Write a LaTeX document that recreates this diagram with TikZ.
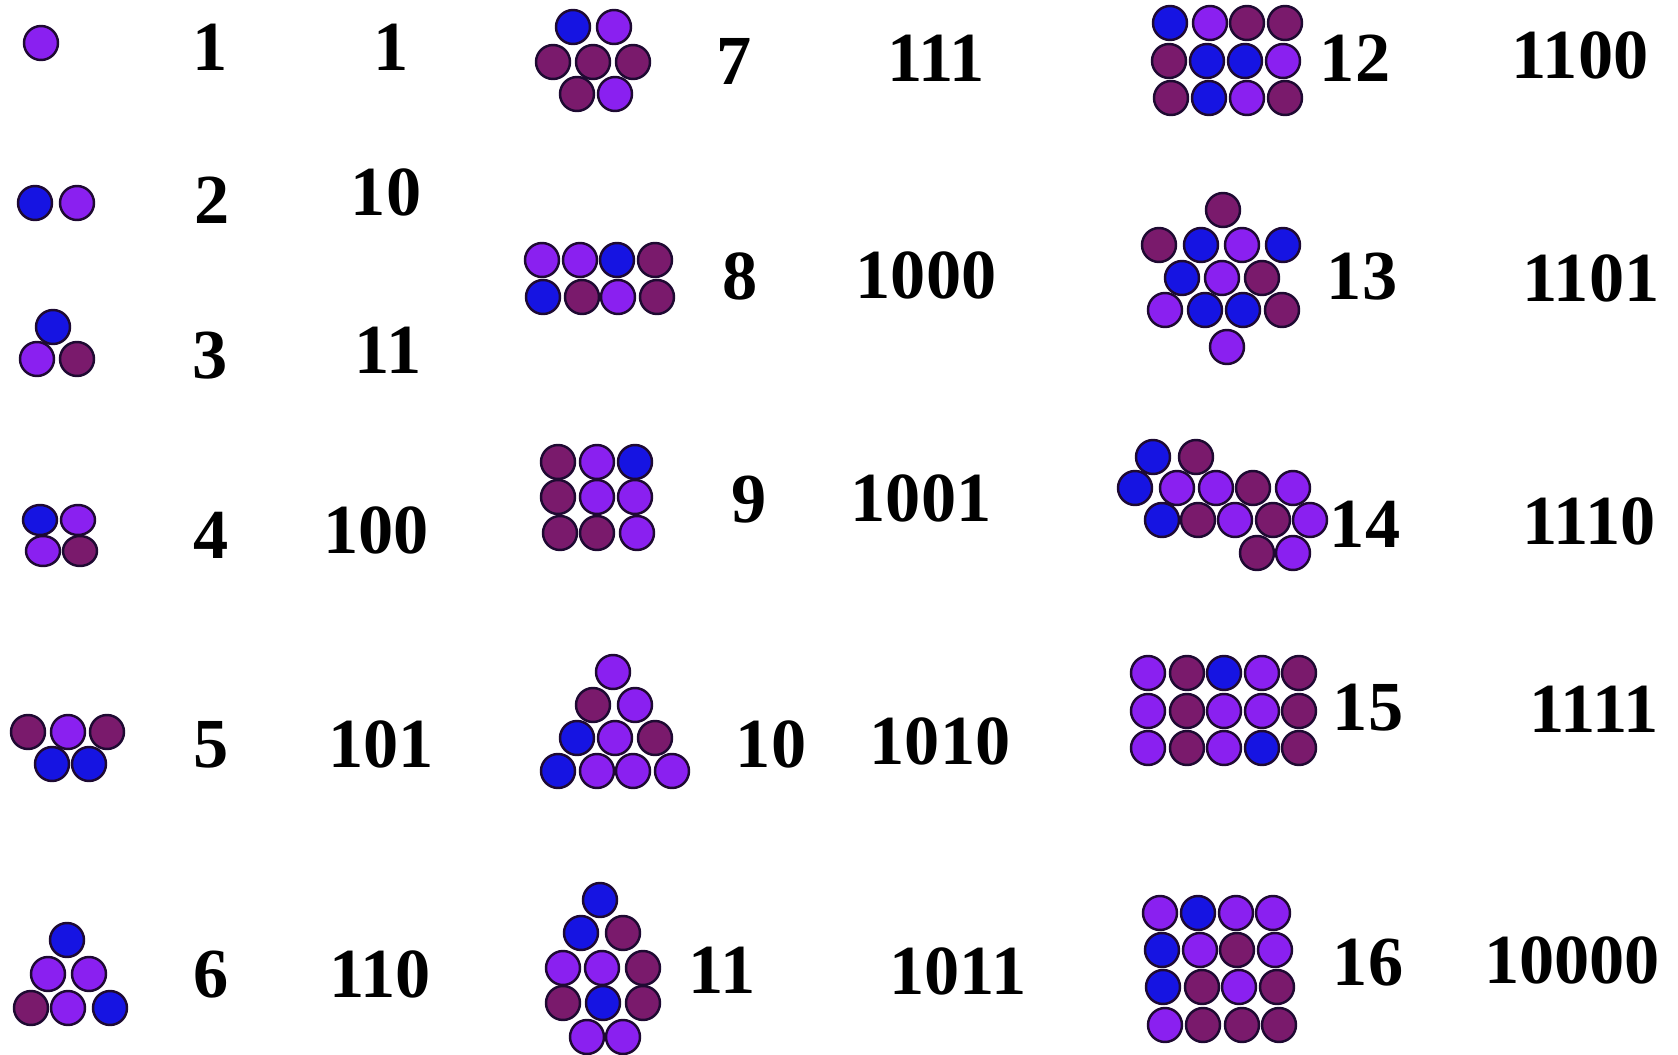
\documentclass[tikz,border=0pt]{standalone}
\usepackage{fontspec}
\setmainfont{Liberation Serif}
\usepackage{xcolor}
\usepackage{tikz}

\definecolor{B}{RGB}{22,20,226}
\definecolor{V}{RGB}{138,32,240}
\definecolor{P}{RGB}{122,26,108}
\definecolor{ballline}{RGB}{30,10,50}

\tikzset{
  ball/.style={draw=ballline, line width=0.7pt},
  count/.style={font=\fontsize{20}{24}\selectfont\bfseries, inner sep=0pt},
}
% one cluster: list of x/y/colour, optional vertical radius
\newcommand{\balls}[2][17]{%
  \foreach \bx/\by/\bc in {#2}
    \draw[ball, fill=\bc] (\bx,\by) ellipse [x radius=17, y radius=#1];}

\begin{document}
\begin{tikzpicture}[x=0.01cm, y=-0.01cm]
  \fill[white] (0,0) rectangle (1678,1055);
  \useasboundingbox (0,0) rectangle (1678,1055);

  % ---- column 1: one to six
  \balls{41/43/V}
  \balls{35/203/B, 77/203/V}
  \balls{53/327/B, 37/359/V, 77/359/P}
  \balls[15]{40/520/B, 78/520/V, 43/551/V, 80/551/P}
  \balls{28/732/P, 68/732/V, 107/732/P, 52/764/B, 89/764/B}
  \balls{67/940/B, 48/974/V, 89/974/V, 31/1008/P, 68/1008/V, 110/1008/B}
  \node[count] (n1) at (210,47) {1};   \node[count] (b1) at (391,47) {1};
  \node[count] (n2) at (212,200) {2};  \node[count] (b2) at (386,192) {10};
  \node[count] (n3) at (210,356) {3};  \node[count] (b3) at (388,350) {11};
  \node[count] (n4) at (211,535) {4};  \node[count] (b4) at (376,530) {100};
  \node[count] (n5) at (211,745) {5};  \node[count] (b5) at (381,744) {101};
  \node[count] (n6) at (211,975) {6};  \node[count] (b6) at (380,974) {110};

  % ---- column 2: seven to eleven
  \balls{573/27/B, 614/27/V, 553/62/P, 593/62/P, 633/62/P, 577/94/P, 615/94/V}
  \balls{542/260/V, 580/260/V, 617/260/B, 655/260/P,
         543/297/B, 582/297/P, 618/297/V, 657/297/P}
  \balls{558/462/P, 597/462/V, 635/462/B, 558/497/P, 597/497/V, 635/497/V,
         560/533/P, 597/533/P, 637/533/V}
  \balls{613/672/V, 593/705/P, 635/705/V, 577/738/B, 615/738/V, 655/738/P,
         558/771/B, 597/771/V, 633/771/V, 672/771/V}
  \balls{600/900/B, 581/933/B, 623/933/P, 563/968/V, 602/968/V, 643/968/P,
         563/1003/P, 603/1003/B, 643/1003/P, 587/1037/V, 623/1037/V}
  \node[count] (n7) at (734,61) {7};    \node[count] (b7) at (936,58) {111};
  \node[count] (n8) at (740,276) {8};   \node[count] (b8) at (926,275) {1000};
  \node[count] (n9) at (749,500) {9};   \node[count] (b9) at (921,498) {1001};
  \node[count] (n10) at (771,744) {10}; \node[count] (b10) at (940,741) {1010};
  \node[count] (n11) at (722,970) {11}; \node[count] (b11) at (958,971) {1011};

  % ---- column 3: twelve to sixteen
  \balls{1170/23/B, 1210/23/V, 1247/23/P, 1285/23/P,
         1169/61/P, 1207/61/B, 1245/61/B, 1283/61/V,
         1171/98/P, 1209/98/B, 1247/98/V, 1285/98/P}
  \balls{1223/210/P, 1159/245/P, 1201/245/B, 1242/245/V, 1283/245/B,
         1182/278/B, 1222/278/V, 1262/278/P,
         1165/310/V, 1205/310/B, 1243/310/B, 1282/310/P, 1227/347/V}
  \balls{1153/457/B, 1196/457/P,
         1135/488/B, 1177/488/V, 1216/488/V, 1253/488/P, 1293/488/V,
         1162/520/B, 1198/520/P, 1235/520/V, 1273/520/P, 1310/520/V,
         1257/553/P, 1293/553/V}
  \balls{1148/673/V, 1187/673/P, 1224/673/B, 1262/673/V, 1299/673/P,
         1148/711/V, 1187/711/P, 1224/711/V, 1262/711/V, 1299/711/P,
         1148/748/V, 1187/748/P, 1224/748/V, 1262/748/B, 1299/748/P}
  \balls{1160/913/V, 1198/913/B, 1236/913/V, 1273/913/V,
         1162/950/B, 1200/950/V, 1237/950/P, 1275/950/V,
         1163/987/B, 1202/987/P, 1239/987/V, 1277/987/P,
         1165/1025/V, 1203/1025/P, 1242/1025/P, 1279/1025/P}
  \node[count] (n12) at (1355,58) {12};  \node[count] (b12) at (1580,55) {1100};
  \node[count] (n13) at (1362,277) {13}; \node[count] (b13) at (1591,278) {1101};
  \node[count] (n14) at (1365,524) {14}; \node[count] (b14) at (1589,521) {1110};
  \node[count] (n15) at (1368,708) {15}; \node[count] (b15) at (1594,709) {1111};
  \node[count] (n16) at (1368,963) {16}; \node[count] (b16) at (1572,960) {10000};
\end{tikzpicture}
\end{document}
